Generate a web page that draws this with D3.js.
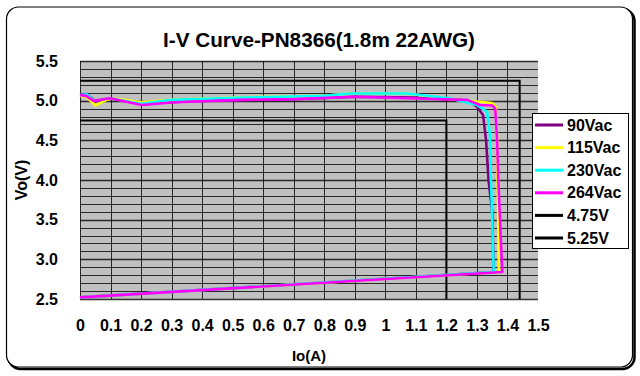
<!DOCTYPE html>
<html>
<head>
<meta charset="utf-8">
<script src="https://cdn.jsdelivr.net/npm/d3@7"></script>
<style>
  html, body { margin: 0; padding: 0; background: #fff; }
  svg { display: block; font-family: "Liberation Sans", Arial, sans-serif; }
</style>
</head>
<body>
<svg id="chart" width="640" height="376"></svg>
<script>
// ---- data ----
const chartTitle = "I-V Curve-PN8366(1.8m 22AWG)";
const xTicks = [0, 0.1, 0.2, 0.3, 0.4, 0.5, 0.6, 0.7, 0.8, 0.9, 1, 1.1, 1.2, 1.3, 1.4, 1.5];
const yTicks = [2.5, 3.0, 3.5, 4.0, 4.5, 5.0, 5.5];
const seriesNames = ["90Vac", "115Vac", "230Vac", "264Vac", "4.75V", "5.25V"];
const seriesColors = ["#800080", "#ffff00", "#00ffff", "#ff00ff", "#000000", "#000000"];

const i90  = [0, 0.022, 0.05, 0.098, 0.2, 0.3, 0.4, 0.53, 0.7, 0.9, 1.1, 1.27, 1.3, 1.32, 1.33, 1.338, 1.35, 1.355, 0];
const v90  = [5.07, 5.085, 4.99, 5.03, 4.96, 4.98, 5.0, 5.01, 5.02, 5.05, 5.04, 5.0, 4.925, 4.82, 4.5, 4.0, 3.6, 2.84, 2.52];

const i115 = [0, 0.02, 0.051, 0.098, 0.148, 0.197, 0.3, 0.5, 0.8, 0.885, 1.07, 1.21, 1.3, 1.35, 1.362, 1.366, 1.372, 0];
const v115 = [5.06, 5.05, 4.94, 5.03, 5.01, 4.98, 5.01, 5.04, 5.06, 5.09, 5.09, 5.02, 4.99, 4.97, 4.92, 4.5, 2.84, 2.52];

const i230 = [0, 0.022, 0.045, 0.098, 0.2, 0.3, 0.53, 0.8, 0.885, 1.07, 1.21, 1.3, 1.333, 1.342, 1.346, 1.355, 0];
const v230 = [5.07, 5.08, 5.0, 5.03, 4.96, 5.01, 5.04, 5.06, 5.09, 5.09, 5.03, 4.946, 4.86, 4.6, 4.0, 2.84, 2.52];

const i264 = [0, 0.02, 0.044, 0.098, 0.202, 0.31, 0.53, 0.7, 0.9, 1.07, 1.268, 1.31, 1.35, 1.36, 1.366, 1.37, 1.383, 0];
const v264 = [5.07, 5.06, 4.997, 5.03, 4.946, 4.98, 5.01, 5.02, 5.05, 5.03, 5.01, 4.946, 4.94, 4.90, 4.5, 4.0, 2.84, 2.52];

const i475 = [0, 1.2, 1.2];
const v475 = [4.75, 4.75, 2.5];
const i525 = [0, 1.44, 1.44];
const v525 = [5.25, 5.25, 2.5];

// ---- drawing ----
const svg = d3.select("#chart");
const x = d3.scaleLinear().domain([0, 1.5]).range([80, 538]);
const y = d3.scaleLinear().domain([2.5, 5.5]).range([299, 61]);

// frame with shadow
svg.append("rect").attr("x", 8.5).attr("y", 9).attr("width", 626).attr("height", 360)
  .attr("rx", 12).attr("fill", "none").attr("stroke", "#000").attr("stroke-width", 2.5);
svg.append("rect").attr("x", 6.5).attr("y", 7).attr("width", 626).attr("height", 360)
  .attr("rx", 12).attr("fill", "#fff").attr("stroke", "#000").attr("stroke-width", 1.2);

// plot background
svg.append("rect").attr("x", x(0)).attr("y", y(5.5))
  .attr("width", x(1.5) - x(0)).attr("height", y(2.5) - y(5.5)).attr("fill", "#c0c0c0");

// grid
const minorY = d3.range(25, 56).map(d => d / 10);
svg.append("g").selectAll("line").data(minorY).join("line")
  .attr("x1", x(0)).attr("x2", x(1.5))
  .attr("y1", d => Math.round(y(d)) + 0.5).attr("y2", d => Math.round(y(d)) + 0.5)
  .attr("stroke", "#000").attr("stroke-opacity", 0.8)
  .attr("stroke-width", d => (Math.round(d * 10) % 5 === 0 ? 1.4 : 1));
svg.append("g").selectAll("line").data(xTicks.slice(0, -1)).join("line")
  .attr("x1", d => Math.round(x(d)) + 0.5).attr("x2", d => Math.round(x(d)) + 0.5)
  .attr("y1", y(5.5)).attr("y2", y(2.5))
  .attr("stroke", "#000").attr("stroke-opacity", 0.8).attr("stroke-width", 1);

// axes
const xAxis = d3.axisBottom(x).tickValues(xTicks).tickSize(0).tickPadding(21)
  .tickFormat(d => d3.format("")(+d.toFixed(1)));
const gx = svg.append("g").attr("transform", `translate(0,${y(2.5)})`).call(xAxis);
gx.select(".domain").remove();
gx.selectAll("text").attr("font-size", 16).attr("font-weight", "bold").attr("fill", "#000")
  .attr("font-family", "Liberation Sans, Arial, sans-serif");

const yAxis = d3.axisLeft(y).tickValues(yTicks).tickSize(0).tickPadding(22).tickFormat(d3.format(".1f"));
const gy = svg.append("g").attr("transform", `translate(${x(0)},0)`).call(yAxis);
gy.select(".domain").remove();
gy.selectAll("text").attr("font-size", 16).attr("font-weight", "bold").attr("fill", "#000")
  .attr("font-family", "Liberation Sans, Arial, sans-serif");

// axis titles
svg.append("text").attr("x", (x(0) + x(1.5)) / 2).attr("y", 361).attr("text-anchor", "middle")
  .attr("font-size", 15).attr("font-weight", "bold").text("Io(A)");
svg.append("text").attr("transform", `translate(27,${(y(2.5) + y(5.5)) / 2}) rotate(-90)`)
  .attr("text-anchor", "middle").attr("font-size", 16).attr("font-weight", "bold").text("Vo(V)");

// title
svg.append("text").attr("x", 319).attr("y", 47).attr("text-anchor", "middle")
  .attr("font-size", 21).attr("font-weight", "bold")
  .attr("textLength", 312).attr("lengthAdjust", "spacingAndGlyphs").text(chartTitle);

// series
const line = d3.line().x(d => x(d[0])).y(d => y(d[1]));
const refSeries = [[i475, v475], [i525, v525]];
const g = svg.append("g");
refSeries.forEach((s, k) => {
  g.append("path").attr("d", line(d3.zip(s[0], s[1])))
    .attr("fill", "none").attr("stroke", seriesColors[4 + k]).attr("stroke-width", 2);
});
const curves = [[i90, v90], [i115, v115], [i230, v230], [i264, v264]];
curves.forEach((s, k) => {
  g.append("path").attr("d", line(d3.zip(s[0], s[1])))
    .attr("fill", "none").attr("stroke", seriesColors[k]).attr("stroke-width", 2.6)
    .attr("stroke-linejoin", "round");
});

// legend
const lg = svg.append("g");
lg.append("rect").attr("x", 532.5).attr("y", 113.5).attr("width", 96).attr("height", 135)
  .attr("fill", "#fff").attr("stroke", "#000").attr("stroke-width", 1);
const rowY = d3.scaleLinear().domain([0, 5]).range([125, 238]);
seriesNames.forEach((name, k) => {
  lg.append("line").attr("x1", 535).attr("x2", 563).attr("y1", rowY(k)).attr("y2", rowY(k))
    .attr("stroke", seriesColors[k]).attr("stroke-width", 3);
  lg.append("text").attr("x", 567).attr("y", rowY(k) + 5.5)
    .attr("font-size", 16).attr("font-weight", "bold").text(name);
});
</script>
</body>
</html>
